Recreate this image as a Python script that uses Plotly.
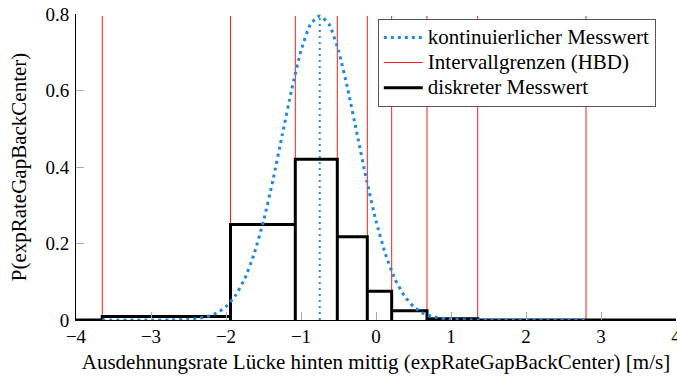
import plotly.graph_objects as go

# --- data ---
curve_x = [-3.65, -3.0, -2.75, -2.5, -2.375, -2.25, -2.125, -2.0, -1.875, -1.75, -1.625,
           -1.5, -1.375, -1.25, -1.125, -1.0, -0.875, -0.75, -0.625, -0.5, -0.375, -0.25,
           -0.125, 0.0, 0.125, 0.25, 0.375, 0.5, 0.625, 0.75, 1.0, 1.25, 1.5, 2.0, 2.8]
curve_y = [0.0, 0.0, 0.0002, 0.0017, 0.004, 0.009, 0.018, 0.035, 0.064, 0.108, 0.173,
           0.259, 0.365, 0.484, 0.602, 0.704, 0.773, 0.795, 0.773, 0.704, 0.602, 0.484,
           0.365, 0.259, 0.173, 0.108, 0.064, 0.035, 0.018, 0.009, 0.0017, 0.0002, 0.0, 0.0, 0.0]
mean_x = -0.75
peak_y = 0.795

bin_edges = [-3.65, -1.94, -1.076, -0.516, -0.116, 0.209, 0.68, 1.356, 2.80]
bin_probs = [0.009, 0.25, 0.42, 0.2175, 0.075, 0.0245, 0.003, 0.0]
boundary_top = 0.795

x_range = [-4, 4]
y_range = [0, 0.8]
x_ticks = [-4, -3, -2, -1, 0, 1, 2, 3, 4]
y_ticks = [0, 0.2, 0.4, 0.6, 0.8]

FONT = "Liberation Serif"
FS = 21
TFS = 19


def big(s):
    return '<span style="font-size:%dpx">%s</span>' % (FS, s)


# red interval boundaries as one trace
rx, ry = [], []
for e in bin_edges:
    rx += [e, e, None]
    ry += [0, boundary_top, None]

# step outline of the discrete distribution
sx, sy = [x_range[0]], [0]
for i, h in enumerate(bin_probs):
    l, r = bin_edges[i], bin_edges[i + 1]
    sx += [l, l, r, r]
    sy += [0, h, h, 0]
sx.append(x_range[1]); sy.append(0)

fig = go.Figure()
fig.add_trace(go.Scatter(x=rx, y=ry, mode="lines", name=big("Intervallgrenzen (HBD)"),
                         line=dict(color="#ff1a1a", width=1), legendrank=2))
fig.add_trace(go.Scatter(x=sx, y=sy, mode="lines", name=big("diskreter Messwert"),
                         line=dict(color="black", width=3), legendrank=3))
fig.add_trace(go.Scatter(x=[mean_x, mean_x], y=[0, peak_y], mode="lines", showlegend=False,
                         line=dict(color="#1E88E5", width=2, dash="2px,4px")))
fig.add_trace(go.Scatter(x=curve_x, y=curve_y, mode="lines", name=big("kontinuierlicher Messwert"),
                         line=dict(color="#1E88E5", width=3, dash="3px,4px", shape="spline", smoothing=0.5),
                         legendrank=1))

axis_common = dict(showgrid=False, zeroline=False, showline=True, linecolor="black", linewidth=1,
                   ticks="inside", ticklen=8, tickcolor="#aaaaaa", tickwidth=1,
                   ticklabeloverflow="allow", automargin=False,
                   tickfont=dict(family=FONT, size=TFS, color="black"))

fig.update_layout(
    width=677, height=378,
    margin=dict(l=76, r=1, t=14, b=58, autoexpand=False),
    plot_bgcolor="white", paper_bgcolor="white",
    font=dict(family=FONT, size=FS, color="black"),
    xaxis=dict(range=x_range, tickvals=x_ticks, **axis_common, ticklabelstandoff=-1,
               title=dict(text="Ausdehnungsrate Lücke hinten mittig (expRateGapBackCenter) [m/s]",
                          font=dict(family=FONT, size=FS), standoff=8)),
    yaxis=dict(range=y_range, tickvals=y_ticks, **axis_common, ticklabelstandoff=2,
               title=dict(text="P(expRateGapBackCenter)", font=dict(family=FONT, size=FS), standoff=13)),
    legend=dict(x=0.503, y=0.984, xanchor="left", yanchor="top",
                bgcolor="white", bordercolor="#555555", borderwidth=1, itemwidth=39,
                font=dict(family=FONT, size=17), tracegroupgap=0),
    showlegend=True,
)

fig.write_html("out.html", config={"displayModeBar": False},
               post_script="document.body.style.margin='0';document.body.style.overflow='hidden';")
